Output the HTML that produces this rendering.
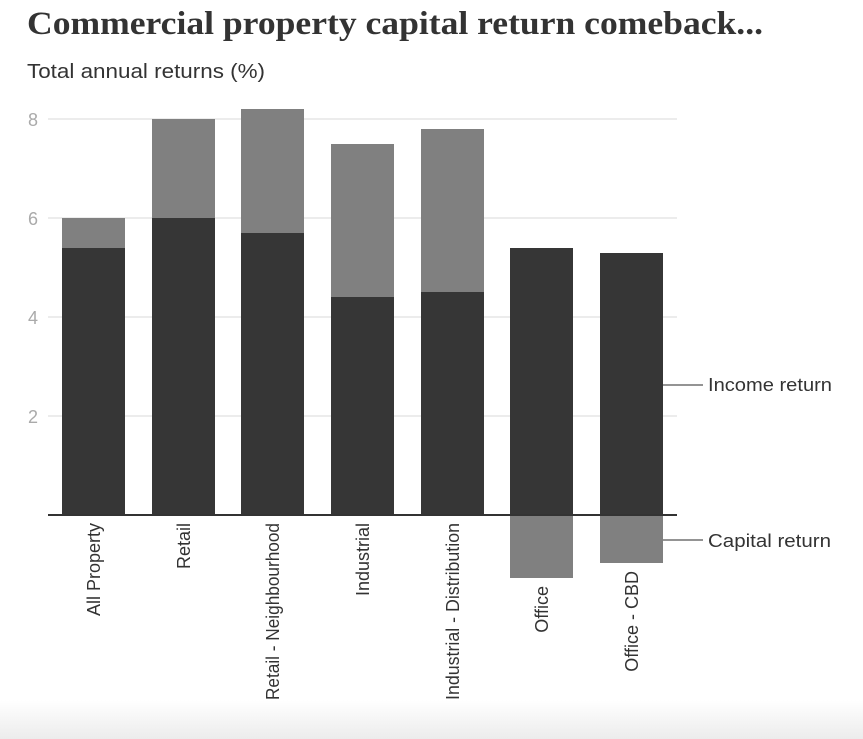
<!DOCTYPE html>
<html><head><meta charset="utf-8"><style>
html,body{margin:0;padding:0;background:#fff}
body{width:863px;height:739px;overflow:hidden;position:relative}
.bot{position:absolute;left:0;top:700px;width:863px;height:39px;background:linear-gradient(#fff,#ececec)}
</style></head><body>
<div class="bot"></div>
<svg width="863" height="739" style="position:absolute;left:0;top:0">
<text x="27" y="34" font-family="Liberation Serif, serif" font-weight="bold" font-size="33" fill="#333" textLength="736" lengthAdjust="spacingAndGlyphs">Commercial property capital return comeback...</text>
<text x="27" y="78" font-family="Liberation Sans, sans-serif" font-size="20" fill="#333" textLength="238" lengthAdjust="spacingAndGlyphs">Total annual returns (%)</text>
<g stroke="#e6e6e6" stroke-width="1.5">
<line x1="48" x2="677" y1="119" y2="119"/><line x1="48" x2="677" y1="218" y2="218"/>
<line x1="48" x2="677" y1="317" y2="317"/><line x1="48" x2="677" y1="416" y2="416"/>
</g>
<g font-family="Liberation Sans, sans-serif" font-size="18" fill="#aaa">
<text x="28" y="126">8</text><text x="28" y="225">6</text><text x="28" y="324">4</text><text x="28" y="423">2</text>
</g>
<g fill="#808080">
<rect x="62" y="218" width="63" height="30"/>
<rect x="152" y="119" width="63" height="99"/>
<rect x="241" y="109" width="63" height="124"/>
<rect x="331" y="144" width="63" height="153"/>
<rect x="421" y="129" width="63" height="163"/>
<rect x="510" y="515" width="63" height="63"/>
<rect x="600" y="515" width="63" height="48"/>
</g>
<g fill="#363636">
<rect x="62" y="248" width="63" height="267"/>
<rect x="152" y="218" width="63" height="297"/>
<rect x="241" y="233" width="63" height="282"/>
<rect x="331" y="297" width="63" height="218"/>
<rect x="421" y="292" width="63" height="223"/>
<rect x="510" y="248" width="63" height="267"/>
<rect x="600" y="253" width="63" height="262"/>
</g>
<line x1="48" x2="677" y1="515" y2="515" stroke="#333" stroke-width="2"/>
<g stroke="#555" stroke-width="1.2"><line x1="663" x2="703" y1="385" y2="385"/><line x1="663" x2="703" y1="540" y2="540"/></g>
<g font-family="Liberation Sans, sans-serif" font-size="18" fill="#333">
<text x="708" y="391" textLength="124" lengthAdjust="spacingAndGlyphs">Income return</text><text x="708" y="547" textLength="123" lengthAdjust="spacingAndGlyphs">Capital return</text>
</g>
<g font-family="Liberation Sans, sans-serif" font-size="18" fill="#333" text-anchor="end">
<text transform="translate(100,523) rotate(-90)">All Property</text>
<text transform="translate(190,523) rotate(-90)">Retail</text>
<text transform="translate(279,523) rotate(-90)" textLength="177" lengthAdjust="spacingAndGlyphs">Retail - Neighbourhood</text>
<text transform="translate(369,523) rotate(-90)">Industrial</text>
<text transform="translate(459,523) rotate(-90)" textLength="177" lengthAdjust="spacingAndGlyphs">Industrial - Distribution</text>
<text transform="translate(548,586) rotate(-90)">Office</text>
<text transform="translate(638,571) rotate(-90)">Office - CBD</text>
</g>
</svg>
</body></html>
